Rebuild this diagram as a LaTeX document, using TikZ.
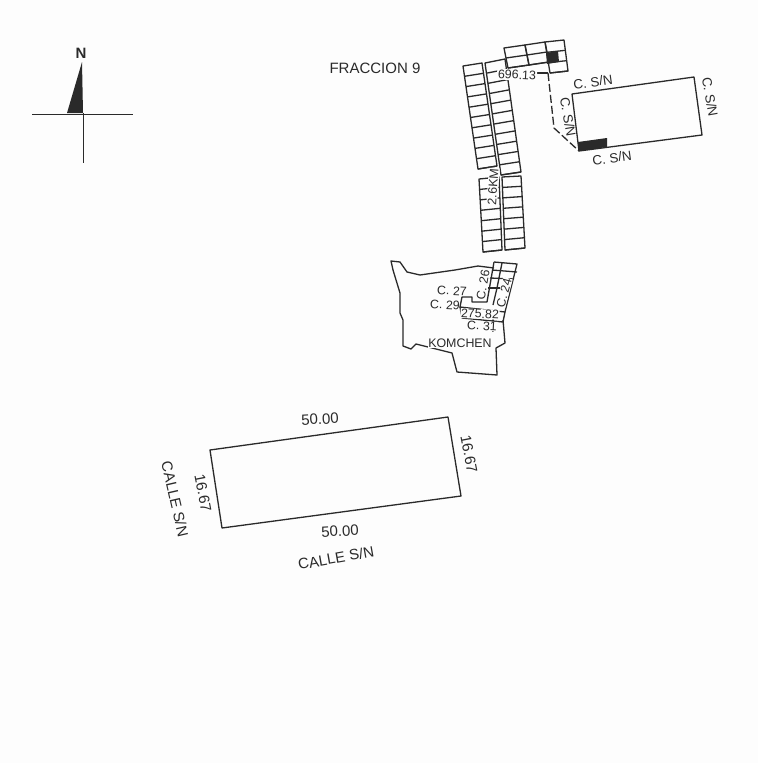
\documentclass[tikz,border=0pt]{standalone}
\usepackage{fontspec}
\setmainfont{Liberation Sans}
\usetikzlibrary{calc}

\definecolor{paper}{HTML}{FDFDFD}
\definecolor{ink}{HTML}{2A2A2A}

% one column of lots: corners tl, tr, br, bl, then the number of rows
\newcommand{\lotcolumn}[5]{
  \draw[lot] (#1) -- (#2) -- (#3) -- (#4) -- cycle;
  \foreach \r in {1,...,#5} {
    \draw[lot] ($(#1)!\r/#5!(#4)$) -- ($(#2)!\r/#5!(#3)$);
  }
}

\begin{document}
\begin{tikzpicture}[
		x=1pt, y=-1pt,
		lot/.style={draw=ink, line width=1.3pt, line join=round},
		cross/.style={draw=ink, line width=0.9pt},
		every node/.style={inner sep=0pt, text=ink},
		big/.style={font=\fontsize{15}{15}\selectfont},
		mid/.style={font=\fontsize{13.4}{14}\selectfont},
		small/.style={font=\fontsize{12.4}{13}\selectfont}
	]
  \fill[paper] (0,0) rectangle (758,763);
  \useasboundingbox (0,0) rectangle (758,763);

  % north mark
  \node (north) [big, font=\fontsize{15}{15}\selectfont\bfseries] at (81,53) {N};
  \coordinate (n_tip) at (82,62);
  \coordinate (n_left) at (67,113);
  \coordinate (n_foot) at (83,113);
  \coordinate (w_end) at (32,114);
  \coordinate (e_end) at (133,114);
  \coordinate (s_end) at (83,163);
  \fill[ink] (n_tip) -- (n_left) -- (n_foot) -- cycle;
  \draw[cross] (w_end) -- (e_end);
  \draw[cross] (n_foot) -- (s_end);

  % lots, long columns
  \coordinate (a_1) at (463,66);
  \coordinate (a_2) at (482,63);
  \coordinate (a_3) at (497,166);
  \coordinate (a_4) at (478,169);
  \lotcolumn{a_1}{a_2}{a_3}{a_4}{10}
  \coordinate (b_1) at (485,63);
  \coordinate (b_2) at (505,59);
  \coordinate (b_3) at (521,172);
  \coordinate (b_4) at (501,175);
  \lotcolumn{b_1}{b_2}{b_3}{b_4}{11}
  \coordinate (c_1) at (479,179);
  \coordinate (c_2) at (499,177);
  \coordinate (c_3) at (502,250);
  \coordinate (c_4) at (483,252);
  \lotcolumn{c_1}{c_2}{c_3}{c_4}{7}
  \coordinate (d_1) at (502,177);
  \coordinate (d_2) at (521,176);
  \coordinate (d_3) at (525,248);
  \coordinate (d_4) at (505,250);
  \lotcolumn{d_1}{d_2}{d_3}{d_4}{7}

  % lots, top row
  \coordinate (e_1) at (504,48);
  \coordinate (e_2) at (525,45);
  \coordinate (e_3) at (529,65);
  \coordinate (e_4) at (508,68);
  \lotcolumn{e_1}{e_2}{e_3}{e_4}{2}
  \coordinate (f_2) at (545,42);
  \coordinate (f_3) at (549,62);
  \lotcolumn{e_2}{f_2}{f_3}{e_3}{2}
  \coordinate (g_2) at (564,40);
  \coordinate (g_3) at (568,71);
  \coordinate (g_4) at (550,73);
  \lotcolumn{f_2}{g_2}{g_3}{g_4}{3}
  \coordinate (h_1) at (546,53);
  \coordinate (h_2) at (558,51);
  \coordinate (h_3) at (559,62);
  \coordinate (h_4) at (547,64);
  \fill[ink] (h_1) -- (h_2) -- (h_3) -- (h_4) -- cycle;

  % parcel and the way to it
  \coordinate (p_1) at (572,94);
  \coordinate (p_2) at (694,77);
  \coordinate (p_3) at (702,135);
  \coordinate (p_4) at (579,151);
  \draw[lot] (p_1) -- (p_2) -- (p_3) -- (p_4) -- cycle;
  \coordinate (m_1) at (578,142);
  \coordinate (m_2) at (607,138);
  \coordinate (m_3) at (607,147);
  \fill[ink] (m_1) -- (m_2) -- (m_3) -- (p_4) -- cycle;
  \coordinate (w_1) at (535,73);
  \coordinate (w_2) at (548,73);
  \coordinate (w_3) at (554,128);
  \draw[lot] (w_1) -- (w_2);
  \draw[lot, dash pattern=on 8pt off 3pt] (w_2) -- (w_3) -- (p_4);

  % town outline
  \draw[lot] (494,268) -- (478,266) -- (455,270) -- (420,275) -- (407,272)
    -- (400,262) -- (391,261) -- (393,270) -- (400,293) -- (400,313) -- (403,320)
    -- (403,346) -- (411,349) -- (416,344) -- (452,353) -- (457,372) -- (497,375)
    -- (496,348) -- (505,343) -- (503,320);

  % streets and lots inside the town
  \coordinate (t_1) at (494,262);
  \coordinate (t_2) at (517,264);
  \coordinate (t_3) at (505,312);
  \coordinate (t_4) at (502,263);
  \coordinate (t_5) at (487,302);
  \coordinate (t_6) at (497,288);
  \coordinate (t_7) at (493,305);
  \draw[lot] (t_1) -- (t_2) -- (t_3);
  \draw[lot] (t_1) -- (t_5) -- (472,302) -- (472,297) -- (462,297) -- (460,307) -- (t_3);
  \draw[lot] (t_4) -- (t_6) -- (t_7);
  \draw[lot] (492,270) -- (517,272);
  \draw[lot] (490,278) -- (514,279);
  \draw[lot] (488,288) -- (500,288);
  \draw[lot] (460,307) -- (462,318) -- (503,322) -- (t_3);
  \draw[lot] (493,318) -- (493,332);

  % texts
  \node (fraccion) [big] at (375,68) {FRACCION 9};
  \node (front) [small, fill=paper, inner sep=1pt, rotate=-3] at (517,75) {696.13};
  \node (road) [small, fill=paper, inner sep=1pt, rotate=86] at (493,187) {2.6KM};
  \node (sn_top) [mid, rotate=8] at (593,82) {C. S/N};
  \node (sn_right) [mid, rotate=-80] at (710,97) {C. S/N};
  \node (sn_left) [mid, rotate=-80] at (568,117) {C. S/N};
  \node (sn_bottom) [mid, rotate=8] at (612,158) {C. S/N};
  \node (c_27) [small, rotate=-3] at (452,291) {C. 27};
  \node (c_29) [small, rotate=-3] at (445,305) {C. 29};
  \node (c_26) [small, fill=paper, inner sep=0.5pt, rotate=80] at (483,285) {C. 26};
  \node (c_24) [small, fill=paper, inner sep=0.5pt, rotate=75] at (504,293) {C. 24};
  \node (town_front) [small, fill=paper, inner sep=0.5pt, rotate=-3] at (480,314) {275.82};
  \node (c_31) [small, fill=paper, inner sep=0.5pt, rotate=-3] at (482,326) {C. 31};
  \node (komchen) [small, fill=paper, inner sep=0.5pt] at (460,343) {KOMCHEN};

  % the lot
  \coordinate (l_1) at (210,450);
  \coordinate (l_2) at (448,417);
  \coordinate (l_3) at (461,496);
  \coordinate (l_4) at (222,528);
  \draw[lot] (l_1) -- (l_2) -- (l_3) -- (l_4) -- cycle;
  \node (top_len) [big, rotate=3] at (320,419) {50.00};
  \node (bot_len) [big, rotate=3] at (340,531) {50.00};
  \node (calle_b) [big, rotate=10] at (336,558) {CALLE S/N};
  \node (right_w) [big, rotate=-79] at (469,454) {16.67};
  \node (left_w) [big, rotate=-79] at (203,493) {16.67};
  \node (calle_l) [big, rotate=-77] at (175,499) {CALLE S/N};
\end{tikzpicture}
\end{document}
